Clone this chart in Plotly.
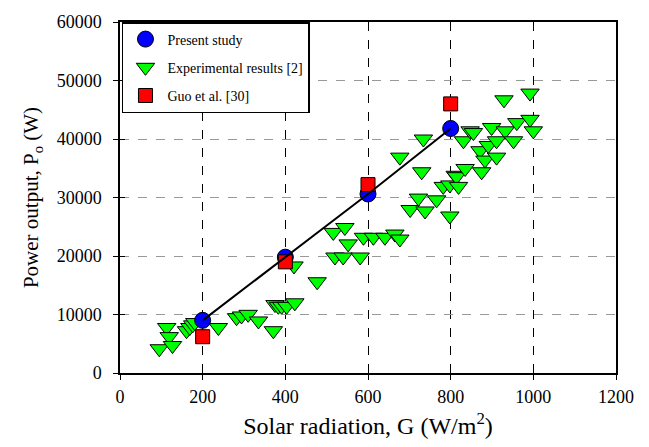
import plotly.graph_objects as go

# Present study
present_g = [200, 400, 600, 800]
present_p = [9000, 19800, 30600, 41800]

# Guo et al. [30]
guo_g = [200, 400, 600, 800]
guo_p = [6200, 19000, 32200, 46000]

# Experimental results [2]
exp_g = [95, 113, 119, 127, 161, 169, 176, 181, 238,
         282, 294, 310, 335, 371, 375, 383, 391, 403, 423,
         421, 477, 516, 544, 552, 520, 540, 581, 589, 613, 641, 665, 677,
         677, 702, 722, 730, 734, 738, 766, 782, 798, 798, 811, 814, 819,
         831, 835, 847, 855, 871, 875, 883, 891, 899, 911, 911, 929, 932,
         952, 960, 992, 992, 1000]
exp_p = [4150, 7780, 6220, 4700, 7230, 7780, 8230, 8620, 7780,
         9460, 9750, 10030, 8900, 7230, 11700, 11400, 11400, 11400, 12000,
         18300, 15600, 24030, 24870, 22070, 19830, 19830, 19830, 23200, 23200, 23200, 23750, 22900,
         36900, 27950, 29900, 34400, 40000, 27700, 29600, 31900, 32150, 26840, 33800, 33560, 31900,
         39700, 34960, 41400, 41100, 38000, 34400, 36400, 38900, 41970, 39700, 36900, 46700, 41400,
         39700, 42800, 47850, 43360, 41400]

x_ticks = [0, 200, 400, 600, 800, 1000, 1200]
y_ticks = [0, 10000, 20000, 30000, 40000, 50000, 60000]
y_tick_text = ["0", "10000", "20000", "30000", "40000", "50000", "60000"]

FONT = "Liberation Serif, Times New Roman, serif"

fig = go.Figure()

fig.add_trace(go.Scatter(
    x=exp_g, y=exp_p, mode="markers", name="Experimental results [2]",
    legendrank=2, legendgroup="b",
    marker=dict(symbol="triangle-down", size=16, color="#00ff00",
                line=dict(color="black", width=1)),
))
fig.add_trace(go.Scatter(
    x=present_g, y=present_p, mode="markers", name="Present study",
    legendrank=1, legendgroup="a",
    marker=dict(symbol="circle", size=16, color="#0000ff",
                line=dict(color="black", width=1)),
))
fig.add_trace(go.Scatter(
    x=guo_g, y=guo_p, mode="markers", name="Guo et al. [30]",
    legendrank=3, legendgroup="c",
    marker=dict(symbol="square", size=14, color="#ff0000",
                line=dict(color="black", width=1)),
))
fig.add_trace(go.Scatter(
    x=present_g, y=present_p, mode="lines", showlegend=False,
    line=dict(color="black", width=2),
))

axis_common = dict(showline=True, linecolor="black", linewidth=1.5, mirror=True,
                   ticks="outside", ticklen=5, tickcolor="black", tickwidth=1,
                   zeroline=False, tickfont=dict(family=FONT, size=18, color="black"))

fig.update_layout(
    width=649, height=447,
    margin=dict(l=120, r=33, t=16, b=74),
    paper_bgcolor="white", plot_bgcolor="white",
    font=dict(family=FONT, color="black"),
    xaxis=dict(range=[0, 1200], tickvals=x_ticks, showgrid=True,
               gridcolor="black", griddash="dash", gridwidth=1,
               ticklabelstandoff=2,
               title=dict(text="Solar radiation, G (W/m<sup>2</sup>)",
                          font=dict(family=FONT, size=24), standoff=11),
               **axis_common),
    yaxis=dict(range=[0, 60000], tickvals=y_ticks, ticktext=y_tick_text, showgrid=True,
               gridcolor="#999999", griddash="dash", gridwidth=1,
               ticklabelstandoff=8,
               title=dict(text="Power output, P<sub>o</sub> (W)",
                          font=dict(family=FONT, size=21), standoff=12),
               **axis_common),
    xaxis2=dict(range=[0, 1200], tickvals=x_ticks, overlaying="x", side="bottom",
                anchor="y", ticks="inside", ticklen=5, tickcolor="black",
                showticklabels=False, showgrid=False, zeroline=False, showline=False),
    yaxis2=dict(range=[0, 60000], tickvals=y_ticks, overlaying="y", side="left",
                anchor="x", ticks="inside", ticklen=5, tickcolor="black",
                showticklabels=False, showgrid=False, zeroline=False, showline=False),
    legend=dict(x=0.004, y=1.0, xanchor="left", yanchor="top",
                bgcolor="white", bordercolor="black", borderwidth=1.5,
                font=dict(family=FONT, size=14), tracegroupgap=7,
                itemwidth=34),
)

# invisible trace to activate the inside-tick overlay axes
fig.add_trace(go.Scatter(x=[None], y=[None], xaxis="x2", yaxis="y2",
                         showlegend=False, hoverinfo="skip"))

fig.write_html("out.html")
